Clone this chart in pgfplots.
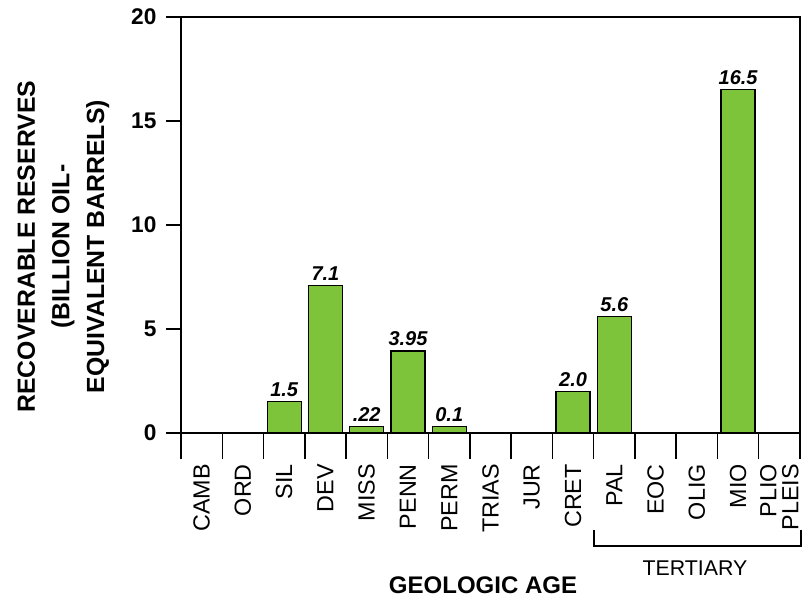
\documentclass[border=0pt]{standalone}
\usepackage{pgfplots}
\pgfplotsset{compat=1.18}
\usepackage{fontspec}
\setmainfont{Liberation Sans}
\definecolor{bargreen}{RGB}{126,196,58}
\begin{document}
\begin{tikzpicture}
\useasboundingbox (0,0) rectangle (601.5pt,450pt);
\begin{axis}[
  at={(135.75pt,125.25pt)}, anchor=south west, scale only axis,
  width=464.25pt, height=312pt,
  xmin=-0.5, xmax=14.5, ymin=0, ymax=20,
  ytick={0,5,10,15,20},
  xtick={0,...,14},
  xticklabels={CAMB,ORD,SIL,DEV,MISS,PENN,PERM,TRIAS,JUR,CRET,PAL,EOC,OLIG,MIO,{PLIO\\PLEIS}},
  minor xtick={-0.5,0.5,...,14.5},
  tick pos=left,
  tick align=outside,
  major tick length=11.25pt,
  minor tick length=19.5pt,
  major x tick style={draw=none},
  every tick/.style={black, line width=1.1pt},
  axis line style={line width=1.1pt},
  /pgf/number format/assume math mode=true,
  yticklabel style={font=\fontsize{17}{17}\selectfont\bfseries, inner sep=0pt, xshift=-7pt},
  xticklabel style={font=\fontsize{17.5}{16.5}\selectfont, rotate=90, anchor=east, align=right, inner sep=0pt},
  xticklabel shift=12pt,
  clip=false,
]
\addplot[ybar, bar width=25.5pt, fill=bargreen, draw=black, line width=1pt,
  nodes near coords, point meta=explicit symbolic,
  nodes near coords style={font=\fontsize{15}{15}\selectfont\bfseries\itshape, inner sep=3pt}]
  table[meta=lab] {
x y lab
2 1.5 1.5
3 7.1 7.1
4 0.32 .22
5 3.95 3.95
6 0.32 0.1
9 2.0 2.0
10 5.6 5.6
13 16.5 16.5
};
\end{axis}
\node[rotate=90, align=center, font=\fontsize{18.6}{26}\selectfont\bfseries] at (47.5pt,265pt)
  {RECOVERABLE RESERVES\\(BILLION OIL-\\EQUIVALENT BARRELS)};
\node[font=\fontsize{18}{18}\selectfont\bfseries] at (362.25pt,11.25pt) {GEOLOGIC AGE};
\node[font=\fontsize{16}{16}\selectfont] at (521.25pt,24pt) {TERTIARY};
\draw[line width=1.1pt] (445.5pt,52.5pt) -- (445.5pt,40.5pt) -- (600.75pt,40.5pt) -- (600.75pt,52.5pt);
\end{tikzpicture}
\end{document}
